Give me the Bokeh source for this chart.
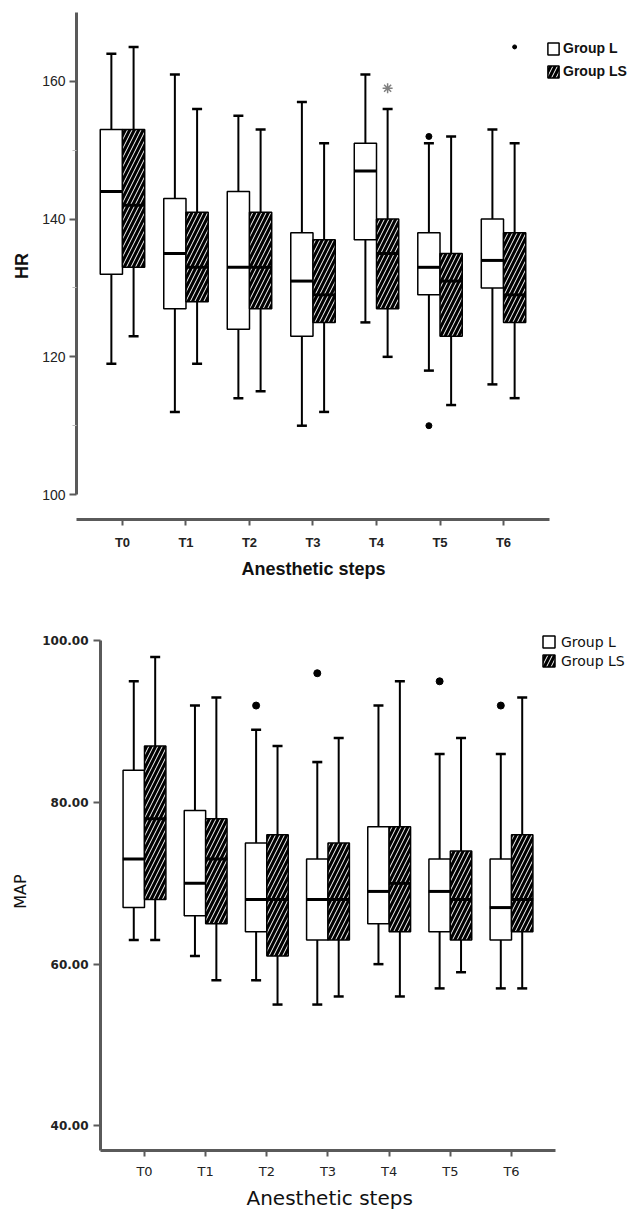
from bokeh.plotting import figure
from bokeh.models import ColumnDataSource, FixedTicker, Legend, LegendItem, Title
from bokeh.transform import dodge
from bokeh.embed import file_html
from bokeh.resources import INLINE

steps = ["T0", "T1", "T2", "T3", "T4", "T5", "T6"]
groups = ["Group L", "Group LS"]

# HR (top chart)
hr_L_low = [119, 112, 114, 110, 125, 118, 116]
hr_L_q1 = [132, 127, 124, 123, 137, 129, 130]
hr_L_med = [144, 135, 133, 131, 147, 133, 134]
hr_L_q3 = [153, 143, 144, 138, 151, 138, 140]
hr_L_high = [164, 161, 155, 157, 161, 151, 153]

hr_LS_low = [123, 119, 115, 112, 120, 113, 114]
hr_LS_q1 = [133, 128, 127, 125, 127, 123, 125]
hr_LS_med = [142, 133, 133, 129, 135, 131, 129]
hr_LS_q3 = [153, 141, 141, 137, 140, 135, 138]
hr_LS_high = [165, 156, 153, 151, 156, 152, 151]

hr_out_step = ["T5", "T5", "T6"]
hr_out_group = ["Group L", "Group L", "Group LS"]
hr_out_val = [152, 110, 165]
hr_out_size = [6, 6, 4]
hr_ext_step = ["T4"]
hr_ext_group = ["Group LS"]
hr_ext_val = [159]

# MAP (bottom chart)
map_L_low = [63, 61, 58, 55, 60, 57, 57]
map_L_q1 = [67, 66, 64, 63, 65, 64, 63]
map_L_med = [73, 70, 68, 68, 69, 69, 67]
map_L_q3 = [84, 79, 75, 73, 77, 73, 73]
map_L_high = [95, 92, 89, 85, 92, 86, 86]

map_LS_low = [63, 58, 55, 56, 56, 59, 57]
map_LS_q1 = [68, 65, 61, 63, 64, 63, 64]
map_LS_med = [78, 73, 68, 68, 70, 68, 68]
map_LS_q3 = [87, 78, 76, 75, 77, 74, 76]
map_LS_high = [98, 93, 87, 88, 95, 88, 93]

map_out_step = ["T2", "T3", "T5", "T6"]
map_out_group = ["Group L", "Group L", "Group L", "Group L"]
map_out_val = [92, 96, 95, 92]

AXIS_COLOR = "#5a5a5a"
BW = 0.35
OFF = {"Group L": -0.175, "Group LS": 0.175}
idx = {s: i for i, s in enumerate(steps)}


def draw_boxes(p, low, q1, med, q3, high, group, hatched):
    src = ColumnDataSource(dict(x=list(range(len(steps))), low=low, q1=q1,
                                med=med, q3=q3, high=high))
    xd = dodge("x", OFF[group], range=p.x_range)
    p.segment(x0=xd, y0="low", x1=xd, y1="q1", source=src, line_color="black", line_width=2)
    p.segment(x0=xd, y0="q3", x1=xd, y1="high", source=src, line_color="black", line_width=2)
    p.scatter(x=xd, y="low", source=src, marker="dash", size=10, line_color="black", line_width=2.5)
    p.scatter(x=xd, y="high", source=src, marker="dash", size=10, line_color="black", line_width=2.5)
    if hatched:
        r = p.vbar(x=xd, width=BW, bottom="q1", top="q3", source=src,
                   fill_color="black", line_color="black", line_width=1.5,
                   hatch_pattern="/", hatch_color="white", hatch_scale=9, hatch_weight=1.0)
    else:
        r = p.vbar(x=xd, width=BW, bottom="q1", top="q3", source=src,
                   fill_color="white", line_color="black", line_width=1.5)
    p.scatter(x=xd, y="med", source=src, marker="dash", size=22, line_color="black", line_width=3)
    return r


def style_common(p, font, ylabel, ytick_size, ytick_style, xtick_size, xtick_style,
                 ylabel_size, label_style):
    p.xgrid.visible = False
    p.ygrid.visible = False
    p.outline_line_color = None
    p.background_fill_color = "white"
    p.border_fill_color = "white"
    for ax in (p.xaxis[0], p.yaxis[0]):
        ax.axis_line_color = AXIS_COLOR
        ax.axis_line_width = 3
        ax.major_tick_line_color = AXIS_COLOR
        ax.major_tick_line_width = 2
        ax.major_tick_in = 0
        ax.major_label_text_font = font
        ax.major_label_text_color = "#222222"
        ax.axis_label_text_font = font
        ax.axis_label_text_color = "#111111"
        ax.axis_label_text_font_style = label_style
    xa = p.xaxis[0]
    xa.ticker = FixedTicker(ticks=list(range(len(steps))))
    xa.major_label_overrides = {i: s for i, s in enumerate(steps)}
    xa.minor_tick_line_color = None
    xa.major_tick_out = 6
    xa.major_label_text_font_size = xtick_size
    xa.major_label_text_font_style = xtick_style
    ya = p.yaxis[0]
    ya.major_tick_out = 7
    ya.major_label_text_font_size = ytick_size
    ya.major_label_text_font_style = ytick_style
    ya.axis_label = ylabel
    ya.axis_label_text_font_size = ylabel_size


# ---------- top chart ----------
p1 = figure(width=632, height=587, x_range=(-0.724, 8.031), y_range=(96.38, 170),
            output_backend="svg", toolbar_location=None,
            min_border_left=76, min_border_right=0, min_border_top=12, min_border_bottom=68)
style_common(p1, "Liberation Sans", "HR", "14px", "normal", "13px", "bold", "18px", "bold")
p1.xaxis[0].bounds = (-0.724, 6.724)
p1.yaxis[0].ticker = FixedTicker(ticks=[100, 120, 140, 160], minor_ticks=[110, 130, 150])
p1.yaxis[0].bounds = (100, 170)
p1.yaxis[0].minor_tick_in = 0
p1.yaxis[0].minor_tick_out = 4
p1.yaxis[0].minor_tick_line_color = "#bbbbbb"
p1.yaxis[0].major_label_standoff = 4
p1.yaxis[0].axis_label_standoff = 7
p1.xaxis[0].major_label_standoff = 9
p1.add_layout(Title(text="Anesthetic steps", align="left", offset=165, standoff=8,
                    text_font="Liberation Sans", text_font_size="18px",
                    text_font_style="bold", text_color="#111111"), "below")

rL1 = draw_boxes(p1, hr_L_low, hr_L_q1, hr_L_med, hr_L_q3, hr_L_high, "Group L", False)
rS1 = draw_boxes(p1, hr_LS_low, hr_LS_q1, hr_LS_med, hr_LS_q3, hr_LS_high, "Group LS", True)

o1 = ColumnDataSource(dict(x=[idx[s] + OFF[g] for s, g in zip(hr_out_step, hr_out_group)],
                           y=hr_out_val, sz=hr_out_size))
p1.scatter(x="x", y="y", size="sz", source=o1, fill_color="black", line_color="black")
e1 = ColumnDataSource(dict(x=[idx[s] + OFF[g] for s, g in zip(hr_ext_step, hr_ext_group)],
                           y=hr_ext_val))
p1.scatter(x="x", y="y", source=e1, marker="asterisk", size=10, line_color="#808080", line_width=1.5)

leg1 = Legend(items=[LegendItem(label=groups[0], renderers=[rL1]),
                     LegendItem(label=groups[1], renderers=[rS1])],
              location=(470, 438), orientation="vertical",
              glyph_width=14, glyph_height=15, label_standoff=3, spacing=3,
              label_height=20, padding=0, margin=0,
              border_line_color=None, background_fill_alpha=0,
              label_text_font="Liberation Sans", label_text_font_size="14px",
              label_text_font_style="bold", label_text_color="#111111")
p1.add_layout(leg1)

# ---------- bottom chart ----------
p2 = figure(width=632, height=624, x_range=(-0.719, 7.978), y_range=(36.94, 101.04),
            output_backend="svg", toolbar_location=None,
            min_border_left=100, min_border_right=0, min_border_top=45, min_border_bottom=55)
style_common(p2, "DejaVu Sans", "MAP", "12px", "bold", "13px", "normal", "16px", "normal")
p2.xaxis[0].bounds = (-0.719, 6.719)
p2.yaxis[0].ticker = FixedTicker(ticks=[40, 60, 80, 100])
p2.yaxis[0].major_label_overrides = {40: "40.00", 60: "60.00", 80: "80.00", 100: "100.00"}
p2.yaxis[0].bounds = (36.94, 100)
p2.yaxis[0].minor_tick_line_color = None
p2.yaxis[0].major_label_standoff = 5
p2.yaxis[0].axis_label_standoff = 9
p2.xaxis[0].major_label_standoff = 7
p2.add_layout(Title(text="Anesthetic steps", align="left", offset=146, standoff=4,
                    text_font="DejaVu Sans", text_font_size="20px",
                    text_font_style="normal", text_color="#111111"), "below")

rL2 = draw_boxes(p2, map_L_low, map_L_q1, map_L_med, map_L_q3, map_L_high, "Group L", False)
rS2 = draw_boxes(p2, map_LS_low, map_LS_q1, map_LS_med, map_LS_q3, map_LS_high, "Group LS", True)

o2 = ColumnDataSource(dict(x=[idx[s] + OFF[g] for s, g in zip(map_out_step, map_out_group)],
                           y=map_out_val))
p2.scatter(x="x", y="y", size=7, source=o2, fill_color="black", line_color="black")

leg2 = Legend(items=[LegendItem(label=groups[0], renderers=[rL2]),
                     LegendItem(label=groups[1], renderers=[rS2])],
              location=(441, 480), orientation="vertical",
              glyph_width=15, glyph_height=15, label_standoff=5, spacing=0,
              label_height=19, padding=0, margin=0,
              border_line_color=None, background_fill_alpha=0,
              label_text_font="DejaVu Sans", label_text_font_size="14px",
              label_text_color="#111111")
p2.add_layout(leg2)

open("out.html", "w").write(file_html([p1, p2], INLINE))
